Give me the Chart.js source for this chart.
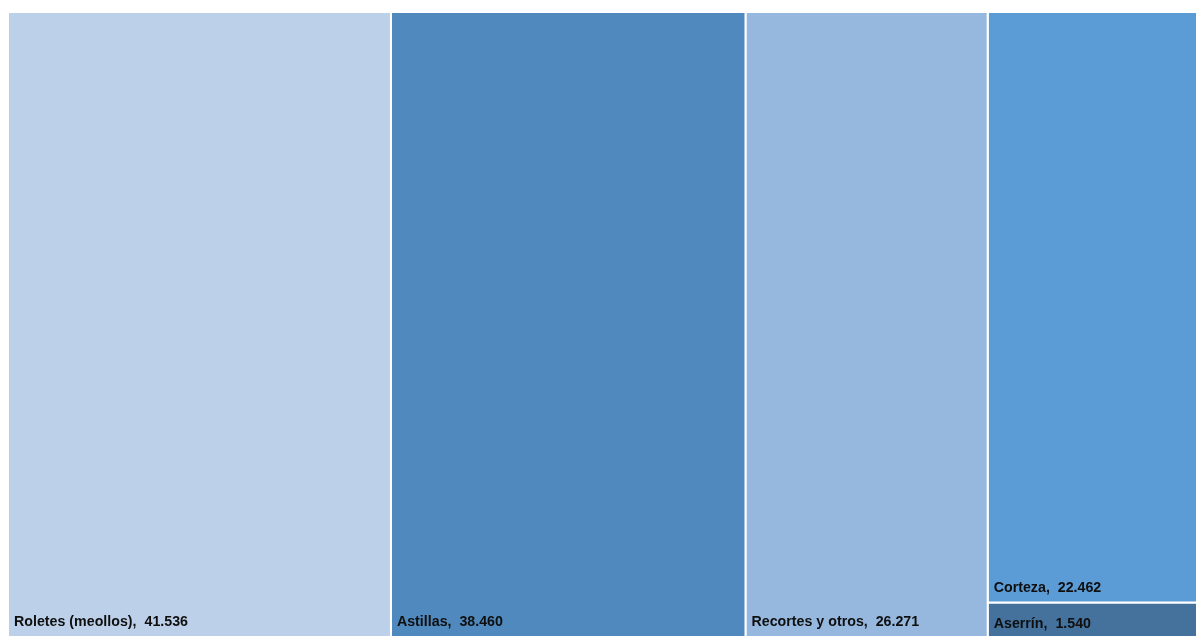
<!DOCTYPE html>
<html><head><meta charset="utf-8">
<script src="https://cdn.jsdelivr.net/npm/chart.js@4"></script>
<style>html,body{margin:0;padding:0;background:#fff;overflow:hidden}#wrap{position:relative;width:1196px;height:636px;}</style>
</head><body><div id="wrap"><canvas id="c"></canvas></div>
<script>
// ---- data ----
const categories = ['Roletes (meollos)', 'Astillas', 'Recortes y otros', 'Corteza', 'Aserrín'];
const values = [41536, 38460, 26271, 22462, 1540];
const columns = [0, 1, 2, 3, 3];
const colors = ['#BDD0EA', '#4F89BD', '#96B8DF', '#5B9BD6', '#44729D'];

// ---- layout derived from data (columns of the treemap) ----
const colTotals = [];
columns.forEach((c, i) => { colTotals[c] = (colTotals[c] || 0) + values[i]; });
const grand = values.reduce((a, b) => a + b, 0);
const colStart = []; let acc = 0;
colTotals.forEach((t, c) => { colStart[c] = acc; acc += t; });
const colUsed = colTotals.map(() => 0);
const rects = values.map((v, i) => {
  const c = columns[i];
  const x0 = colStart[c], x1 = colStart[c] + colTotals[c];
  const y1 = 1 - colUsed[c] / colTotals[c];
  colUsed[c] += v;
  const y0 = 1 - colUsed[c] / colTotals[c];
  return { x0, x1, y0, y1 };
});

function fmt(n) { return String(n).replace(/\B(?=(\d{3})+(?!\d))/g, '.'); }
const labels = categories.map((c, i) => c + ',  ' + fmt(values[i]));

const datasets = rects.map((r, i) => ({
  label: categories[i],
  data: [
    { x: r.x0, y: r.y0 }, { x: r.x1, y: r.y0 }, { x: r.x1, y: r.y1 },
    { x: r.x0, y: r.y1 }, { x: r.x0, y: r.y0 }
  ],
  backgroundColor: colors[i],
  borderColor: '#FFFFFF',
  borderWidth: 2,
  fill: 'shape',
  pointRadius: 0,
  pointHoverRadius: 0,
  tension: 0,
  clip: 0
}));

const labelPlugin = {
  id: 'tmLabels',
  afterDatasetsDraw(chart) {
    const { ctx, scales: { x, y }, chartArea } = chart;
    ctx.save();
    ctx.font = 'bold 15.5px "Liberation Sans", Arial, sans-serif';
    ctx.fillStyle = '#0f0f0f';
    ctx.textBaseline = 'alphabetic';
    ctx.textAlign = 'left';
    const k = 174 / ctx.measureText(labels[0]).width; // condense like Calibri
    rects.forEach((r, i) => {
      const left = x.getPixelForValue(r.x0);
      const top = y.getPixelForValue(r.y1);
      const bottom = Math.min(y.getPixelForValue(r.y0), chartArea.bottom);
      const base = Math.max(bottom - 10.5, top + 26);
      ctx.save();
      ctx.translate(left + 6, base);
      ctx.scale(k, 1);
      ctx.fillText(labels[i], 0, 0);
      ctx.restore();
    });
    ctx.restore();
  }
};

new Chart(document.getElementById('c'), {
  type: 'line',
  data: { datasets },
  options: {
    responsive: true,
    maintainAspectRatio: false,
    animation: false,
    devicePixelRatio: 1,
    layout: { padding: { left: 8, top: 12, right: 0, bottom: 0 } },
    scales: {
      x: { type: 'linear', display: false, min: 0, max: grand * 0.9892 },
      y: { type: 'linear', display: false, min: 0.011, max: 1 }
    },
    plugins: { legend: { display: false }, tooltip: { enabled: false } }
  },
  plugins: [labelPlugin]
});
</script>
</body></html>
